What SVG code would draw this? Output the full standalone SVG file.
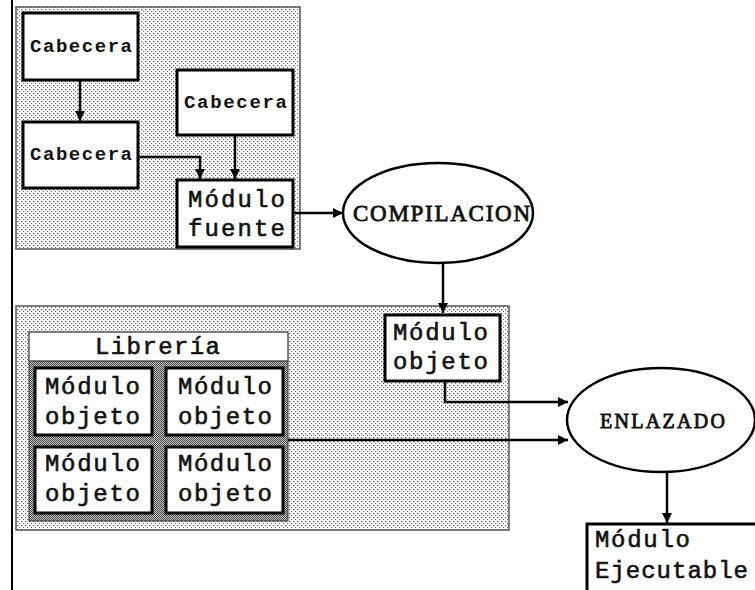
<svg xmlns="http://www.w3.org/2000/svg" width="755" height="590" viewBox="0 0 755 590">
<defs>
<pattern id="dots" width="4" height="4" patternUnits="userSpaceOnUse">
<rect width="4" height="4" fill="#ffffff"/>
<rect x="1" y="1" width="1.3" height="1.3" fill="#666"/>
<rect x="3" y="3" width="1.3" height="1.3" fill="#666"/>
</pattern>
<pattern id="dark" width="2" height="2" patternUnits="userSpaceOnUse">
<rect width="2" height="2" fill="#c8c8c8"/>
<rect width="1" height="1" fill="#444"/>
<rect x="1" y="1" width="1" height="1" fill="#444"/>
</pattern>
<marker id="ah" viewBox="0 0 10 10" refX="10" refY="5" markerWidth="10" markerHeight="10" markerUnits="userSpaceOnUse" orient="auto">
<path d="M0,0 L10,5 L0,10 Z" fill="#000"/>
</marker>
</defs>
<style>
.panel{fill:url(#dots);stroke:#555;stroke-width:1.5}
.box{fill:#fff;stroke:#000;stroke-width:3}
.t{font-family:"Liberation Mono","Courier New",monospace;font-weight:bold;fill:#111}
.s{font-size:19px}
.m{font-size:24px;font-weight:normal;stroke:#111;stroke-width:0.6}
.e{font-family:"Liberation Serif","Times New Roman",serif;font-size:23px;font-weight:normal;stroke:#111;stroke-width:0.8}
.c{stroke:#000;stroke-width:2.5;fill:none;marker-end:url(#ah)}
</style>
<rect width="755" height="590" fill="#fff"/>
<line x1="12" y1="0" x2="12" y2="590" stroke="#000" stroke-width="2"/>

<g id="panel-top"><rect class="panel" x="16" y="7" width="284" height="242"/></g>
<g id="panel-bottom"><rect class="panel" x="16" y="306" width="493" height="224"/></g>

<g id="cab1"><rect class="box" x="23" y="13" width="115" height="67"/><text class="t s" x="30" y="52" textLength="102" lengthAdjust="spacing">Cabecera</text></g>
<g id="cab2"><rect class="box" x="177" y="70" width="116" height="65"/><text class="t s" x="184" y="108" textLength="103" lengthAdjust="spacing">Cabecera</text></g>
<g id="cab3"><rect class="box" x="23" y="122" width="115" height="66"/><text class="t s" x="30" y="160" textLength="102" lengthAdjust="spacing">Cabecera</text></g>
<g id="fuente"><rect class="box" x="177" y="180" width="116" height="67"/><text class="t m" x="188" y="207" textLength="97" lengthAdjust="spacing">Módulo</text><text class="t m" x="188" y="236" textLength="97" lengthAdjust="spacing">fuente</text></g>

<g id="compilacion"><ellipse cx="438" cy="213" rx="95" ry="50" fill="#fff" stroke="#000" stroke-width="2.5"/><text class="t e" x="353" y="221" textLength="177" lengthAdjust="spacing">COMPILACION</text></g>

<g id="objeto"><rect class="box" x="385" y="315" width="115" height="66"/><text class="t m" x="393" y="340" textLength="95" lengthAdjust="spacing">Módulo</text><text class="t m" x="393" y="369" textLength="95" lengthAdjust="spacing">objeto</text></g>

<g id="libreria">
<rect x="29" y="361" width="259" height="160" fill="url(#dark)" stroke="#333" stroke-width="1"/>
<rect x="29" y="332" width="259" height="29" fill="#fff" stroke="#555" stroke-width="1.5"/>
<text class="t m" x="95" y="354" textLength="125" lengthAdjust="spacing">Librería</text>
<rect class="box" x="35" y="368" width="117" height="67"/>
<text class="t m" x="45" y="394" textLength="95" lengthAdjust="spacing">Módulo</text><text class="t m" x="45" y="424" textLength="95" lengthAdjust="spacing">objeto</text>
<rect class="box" x="166" y="368" width="117" height="67"/>
<text class="t m" x="178" y="394" textLength="94" lengthAdjust="spacing">Módulo</text><text class="t m" x="178" y="424" textLength="94" lengthAdjust="spacing">objeto</text>
<rect class="box" x="35" y="447" width="117" height="66"/>
<text class="t m" x="45" y="471" textLength="95" lengthAdjust="spacing">Módulo</text><text class="t m" x="45" y="501" textLength="95" lengthAdjust="spacing">objeto</text>
<rect class="box" x="166" y="447" width="117" height="66"/>
<text class="t m" x="178" y="471" textLength="94" lengthAdjust="spacing">Módulo</text><text class="t m" x="178" y="501" textLength="94" lengthAdjust="spacing">objeto</text>
</g>

<g id="enlazado"><ellipse cx="661" cy="420" rx="94" ry="52" fill="#fff" stroke="#000" stroke-width="2.5"/><text class="t e" x="600" y="428" textLength="125" lengthAdjust="spacing" style="font-size:20px">ENLAZADO</text></g>

<g id="ejecutable"><rect class="box" x="587" y="524" width="175" height="80"/><text class="t m" x="595" y="547" textLength="95" lengthAdjust="spacing">Módulo</text><text class="t m" x="595" y="578" textLength="153" lengthAdjust="spacing">Ejecutable</text></g>

<g id="connectors">
<path class="c" d="M80,80 V121"/>
<path class="c" d="M138,157 H200 V179"/>
<path class="c" d="M235,135 V179"/>
<path class="c" d="M293,213 H343"/>
<path class="c" d="M443,263 V313"/>
<path class="c" d="M445,381 V402 H568"/>
<path class="c" d="M288,440 H568"/>
<path class="c" d="M667,472 V523"/>
</g>
</svg>
